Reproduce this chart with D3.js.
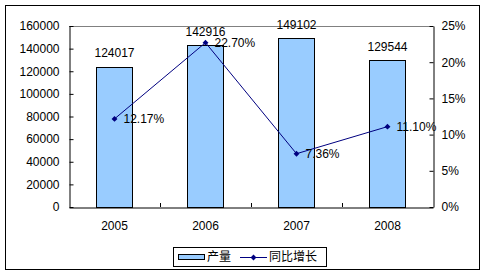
<!DOCTYPE html>
<head>
  <meta charset="utf-8">
  <title>index.html</title>
</head>
<style>
body { margin: 0; background: #fff; }
svg text { font-family: "Liberation Sans", Arial, sans-serif; font-size: 12px; fill: #000; }
.cjk { font-family: "Noto Sans CJK SC", sans-serif; font-size: 12px; }
.axis path, .axis line { stroke: #000; }
</style>
<svg width="487" height="276"></svg>
<script src="https://d3js.org/d3.v7.min.js"></script>
<script>
var years = ["2005", "2006", "2007", "2008"];
var output = [124017, 142916, 149102, 129544];
var growth = [0.1217, 0.2270, 0.0736, 0.1110];
var growthLabels = ["12.17%", "22.70%", "7.36%", "11.10%"];
var leftTicks = [0, 20000, 40000, 60000, 80000, 100000, 120000, 140000, 160000];
var rightTicks = [0, 0.05, 0.10, 0.15, 0.20, 0.25];
var seriesNames = ["产量", "同比增长"];

var svg = d3.select("svg"),
    plot = { left: 69, right: 433, top: 26, bottom: 207 };

// outer chart border
svg.append("rect")
    .attr("x", 5.5).attr("y", 5.5)
    .attr("width", 474).attr("height", 264)
    .attr("fill", "none").attr("stroke", "#000");

var x = d3.scaleBand().domain(years).range([plot.left, plot.right]);
var yL = d3.scaleLinear().domain([0, 160000]).range([plot.bottom, plot.top]);
var yR = d3.scaleLinear().domain([0, 0.25]).range([plot.bottom, plot.top]);

// grey top edge of the plot area
svg.append("line")
    .attr("x1", plot.left).attr("x2", plot.right)
    .attr("y1", plot.top + 0.5).attr("y2", plot.top + 0.5)
    .attr("stroke", "#808080");

var barW = x.bandwidth() * 0.4;

svg.selectAll(".bar")
  .data(output)
  .enter().append("rect")
    .attr("class", "bar")
    .attr("x", function(d, i) { return Math.round(x(years[i]) + x.bandwidth() / 2 - barW / 2) + 0.5; })
    .attr("y", function(d) { return Math.round(yL(d)) + 0.5; })
    .attr("width", Math.round(barW))
    .attr("height", function(d) { return Math.round(plot.bottom - yL(d)); })
    .attr("fill", "#99ccff")
    .attr("stroke", "#000");

svg.selectAll(".barlabel")
  .data(output)
  .enter().append("text")
    .attr("x", function(d, i) { return x(years[i]) + x.bandwidth() / 2; })
    .attr("y", function(d) { return yL(d) - 14; })
    .attr("dy", "0.35em")
    .attr("text-anchor", "middle")
    .text(function(d) { return d; });

// axes
svg.append("g")
    .attr("class", "axis")
    .attr("transform", "translate(" + (plot.left + 0.5) + ",0)")
    .call(d3.axisLeft(yL).tickValues(leftTicks).tickSizeInner(-4).tickSizeOuter(0).tickPadding(10).tickFormat(d3.format("d")))
    .call(function(g) { g.selectAll("text").style("font-size", "12px").style("font-family", "Liberation Sans, Arial"); });

svg.append("g")
    .attr("class", "axis")
    .attr("transform", "translate(" + (plot.right + 0.5) + ",0)")
    .call(d3.axisRight(yR).tickValues(rightTicks).tickSizeInner(-4).tickSizeOuter(0).tickPadding(8).tickFormat(d3.format(".0%")))
    .call(function(g) { g.selectAll("text").style("font-size", "12px").style("font-family", "Liberation Sans, Arial"); });

svg.append("g")
    .attr("class", "axis")
    .attr("transform", "translate(0," + (plot.bottom + 0.5) + ")")
    .call(d3.axisBottom(x).tickSize(0).tickPadding(14))
    .call(function(g) { g.selectAll("text").style("font-size", "12px").style("font-family", "Liberation Sans, Arial"); });

// category boundary ticks (inside)
svg.selectAll(".cattick")
  .data(years.slice(1))
  .enter().append("line")
    .attr("x1", function(d) { return Math.round(x(d)) + 0.5; })
    .attr("x2", function(d) { return Math.round(x(d)) + 0.5; })
    .attr("y1", plot.bottom).attr("y2", plot.bottom - 4)
    .attr("stroke", "#000");

// growth line
var line = d3.line()
    .x(function(d, i) { return x(years[i]) + x.bandwidth() / 2; })
    .y(function(d) { return yR(d); });

svg.append("path")
    .datum(growth)
    .attr("d", line)
    .attr("fill", "none")
    .attr("stroke", "#000080")
    .attr("stroke-width", 1);

var diamond = d3.symbol().type(d3.symbolDiamond2).size(22);

svg.selectAll(".pt")
  .data(growth)
  .enter().append("path")
    .attr("d", diamond)
    .attr("transform", function(d, i) { return "translate(" + (x(years[i]) + x.bandwidth() / 2) + "," + yR(d) + ")"; })
    .attr("fill", "#000080");

svg.selectAll(".ptlabel")
  .data(growth)
  .enter().append("text")
    .attr("x", function(d, i) { return x(years[i]) + x.bandwidth() / 2 + 9; })
    .attr("y", function(d) { return yR(d); })
    .attr("dy", "0.35em")
    .text(function(d, i) { return growthLabels[i]; });

// legend
var lg = svg.append("g").attr("transform", "translate(173,247)");
lg.append("rect")
    .attr("x", 0.5).attr("y", 0.5)
    .attr("width", 153).attr("height", 19)
    .attr("fill", "#fff").attr("stroke", "#000");
lg.append("rect")
    .attr("x", 5.5).attr("y", 7.5)
    .attr("width", 26).attr("height", 5)
    .attr("fill", "#99ccff").attr("stroke", "#000");
lg.append("text")
    .attr("class", "cjk")
    .attr("x", 34).attr("y", 10).attr("dy", "0.35em")
    .text(seriesNames[0]);
lg.append("line")
    .attr("x1", 67).attr("x2", 94)
    .attr("y1", 10.5).attr("y2", 10.5)
    .attr("stroke", "#000080");
lg.append("path")
    .attr("d", diamond)
    .attr("transform", "translate(80.5,10.5)")
    .attr("fill", "#000080");
lg.append("text")
    .attr("class", "cjk")
    .attr("x", 96).attr("y", 10).attr("dy", "0.35em")
    .text(seriesNames[1]);
</script>
